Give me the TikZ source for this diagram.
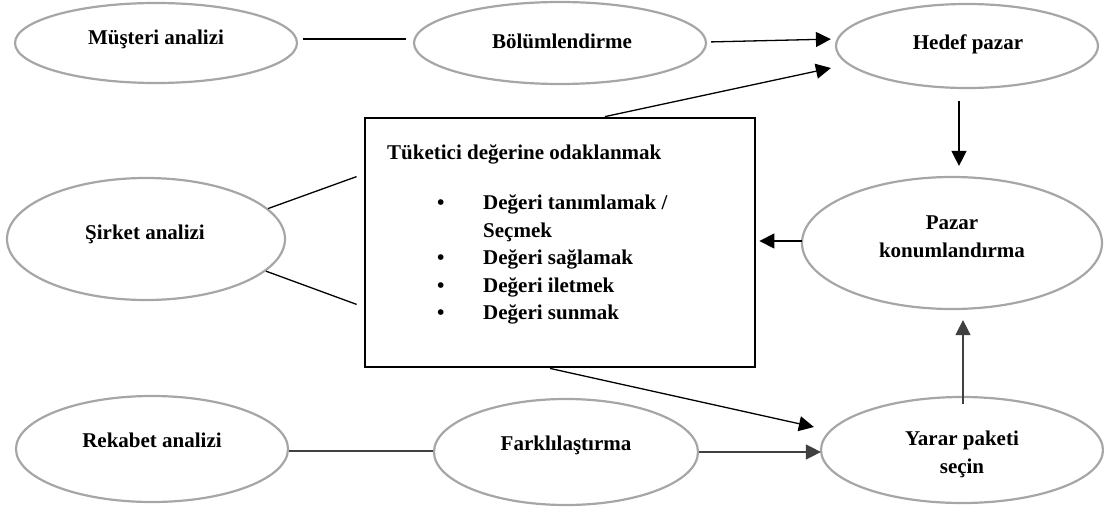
\documentclass[tikz,border=0pt]{standalone}
\usepackage{fontspec}
\setmainfont{Liberation Serif}
\usetikzlibrary{shapes.geometric,arrows.meta}

\definecolor{ovalgray}{HTML}{A6A6A6}
\definecolor{darkline}{HTML}{404040}

\tikzset{
  oval/.style={ellipse, draw=ovalgray, line width=2.2pt, inner sep=0pt},
  lbl/.style={font=\fontsize{21}{27.5}\selectfont\bfseries, align=center,
              inner sep=0pt, text height=14pt, text depth=4pt},
  conn/.style={line width=1.3pt, black},
  arr/.style={conn, -{Triangle[length=15pt,width=15pt]}},
  focusbox/.style={draw=black, line width=2.8pt, inner sep=0pt}
}

\begin{document}
\begin{tikzpicture}[x=1pt, y=-1pt]
\useasboundingbox (0,0) rectangle (1104,514);

% analysis and strategy ovals
\node[oval, minimum width=282pt, minimum height=80pt] (mus) at (156,43) {};
\node[lbl] (mus-t) at (156,40) {Müşteri analizi};

\node[oval, minimum width=292pt, minimum height=82pt] (bol) at (560,43) {};
\node[lbl] (bol-t) at (562,43) {Bölümlendirme};

\node[oval, minimum width=262pt, minimum height=84pt] (hed) at (967,46) {};
\node[lbl] (hed-t) at (968,44) {Hedef pazar};

\node[oval, minimum width=278pt, minimum height=122pt] (sir) at (146,239) {};
\node[lbl] (sir-t) at (145,234) {Şirket analizi};

\node[oval, minimum width=300pt, minimum height=132pt] (paz) at (952,243) {};
\node[lbl] (paz-t) at (952,252) {Pazar\\konumlandırma};

\node[oval, minimum width=272pt, minimum height=106pt] (rek) at (152,449) {};
\node[lbl] (rek-t) at (152,442) {Rekabet analizi};

\node[oval, minimum width=264pt, minimum height=106pt] (far) at (566,452) {};
\node[lbl] (far-t) at (566,445) {Farklılaştırma};

\node[oval, minimum width=282pt, minimum height=106pt] (yar) at (962,450) {};
\node[lbl] (yar-t) at (962,468) {Yarar paketi\\seçin};

% central value box
\node[focusbox, minimum width=390pt, minimum height=249pt] (box) at (560,242.5) {};
\node[lbl, anchor=west, align=left] (box-title) at (387,154) {Tüketici değerine odaklanmak};
\node[font=\fontsize{21}{27.5}\selectfont\bfseries, align=left, inner sep=0pt,
      anchor=north west] (box-list) at (437,195)
  {\makebox[46pt][l]{•}Değeri tanımlamak /\\
   \hspace*{46pt}Seçmek\\
   \makebox[46pt][l]{•}Değeri sağlamak\\
   \makebox[46pt][l]{•}Değeri iletmek\\
   \makebox[46pt][l]{•}Değeri sunmak};

% connectors
\draw[conn, shorten <=5pt, shorten >=7pt] ([yshift=4pt]mus.east) -- ([yshift=4pt]bol.west);
\draw[arr, shorten <=4pt, shorten >=4pt] ([yshift=1pt]bol.east) -- ([yshift=4pt]bol.east -| hed.west);
\draw[arr] ([xshift=45pt]box.north) -- ([xshift=-4pt,yshift=-22pt]hed.west);
\draw[arr] ([xshift=-8pt,yshift=-12pt]hed.south) -- ([xshift=7pt,yshift=10pt]paz.north);
\draw[arr] ([xshift=1pt,yshift=2pt]paz.west) -- ([xshift=3pt,yshift=2pt]paz.west -| box.east);
\draw[arr, darkline] ([xshift=1pt,yshift=-8pt]yar.north) -- ([xshift=11pt,yshift=-10pt]paz.south);
\draw[conn] (sir.14) -- ([xshift=-7pt,yshift=-60pt]box.north west);
\draw[conn] (sir.-15) -- ([xshift=-7pt,yshift=64pt]box.south west);
\draw[arr] ([xshift=-10pt]box.south) -- ([xshift=-6pt,yshift=23pt]yar.west);
\draw[conn, darkline] ([yshift=-2pt]rek.east) -- ([yshift=1pt]far.west);
\draw[arr, darkline] (far.east) -- ([xshift=1pt]far.east -| yar.west);
\end{tikzpicture}
\end{document}
